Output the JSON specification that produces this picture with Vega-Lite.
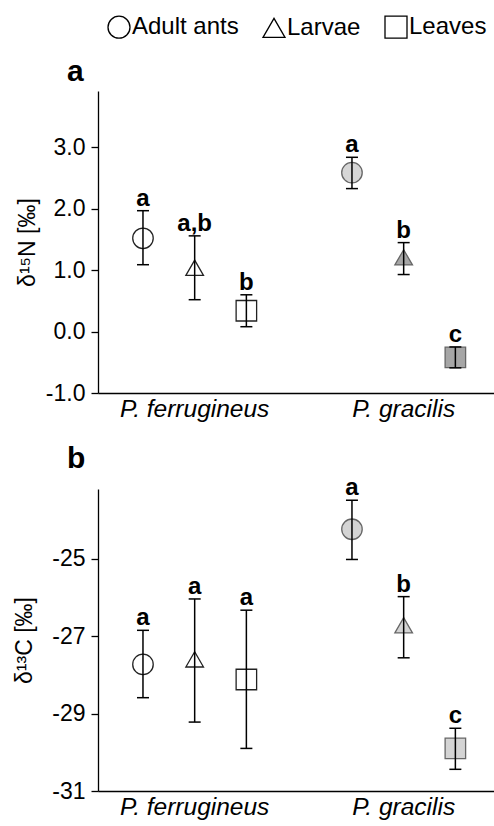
{
  "$schema": "https://vega.github.io/schema/vega-lite/v6.json",
  "padding": {"left": 13, "top": 15, "right": 2, "bottom": 2},
  "background": "white",
  "config": {
    "font": "Liberation Sans",
    "view": {"stroke": null},
    "axis": {"grid": false, "domainColor": "black", "tickColor": "black", "labelColor": "black", "titleColor": "black", "domainWidth": 1.3, "tickWidth": 1.3, "titleFontWeight": "normal"},
    "title": {"color": "black"},
    "legend": {"orient": "none", "legendX": 9, "legendY": -76, "direction": "horizontal", "title": null, "symbolSize": 484, "symbolStrokeWidth": 1.3, "symbolFillColor": "white", "symbolStrokeColor": "black", "labelFontSize": 24, "labelColor": "black", "labelOffset": 1, "columnPadding": 21,
               "symbolOpacity": 1}
  },
  "datasets": {
    "n15": [
      {"species": "P. ferrugineus", "type": "Adult ants", "mean": 1.52, "lo": 1.09, "hi": 1.97, "letter": "a"},
      {"species": "P. ferrugineus", "type": "Larvae", "mean": 1.04, "lo": 0.52, "hi": 1.56, "letter": "a,b"},
      {"species": "P. ferrugineus", "type": "Leaves", "mean": 0.34, "lo": 0.08, "hi": 0.60, "letter": "b"},
      {"species": "P. gracilis", "type": "Adult ants", "mean": 2.59, "lo": 2.33, "hi": 2.84, "letter": "a"},
      {"species": "P. gracilis", "type": "Larvae", "mean": 1.21, "lo": 0.93, "hi": 1.45, "letter": "b"},
      {"species": "P. gracilis", "type": "Leaves", "mean": -0.42, "lo": -0.59, "hi": -0.25, "letter": "c"}
    ],
    "c13": [
      {"species": "P. ferrugineus", "type": "Adult ants", "mean": -27.73, "lo": -28.59, "hi": -26.85, "letter": "a"},
      {"species": "P. ferrugineus", "type": "Larvae", "mean": -27.6, "lo": -29.22, "hi": -26.04, "letter": "a"},
      {"species": "P. ferrugineus", "type": "Leaves", "mean": -28.12, "lo": -29.9, "hi": -26.33, "letter": "a"},
      {"species": "P. gracilis", "type": "Adult ants", "mean": -24.24, "lo": -25.02, "hi": -23.49, "letter": "a"},
      {"species": "P. gracilis", "type": "Larvae", "mean": -26.72, "lo": -27.56, "hi": -25.98, "letter": "b"},
      {"species": "P. gracilis", "type": "Leaves", "mean": -29.9, "lo": -30.44, "hi": -29.38, "letter": "c"}
    ]
  },
  "spacing": 23,
  "vconcat": [
    {
      "width": 396,
      "height": 302,
      "data": {"name": "n15"},
      "title": {"text": "a", "anchor": "start", "frame": "group", "fontSize": 30, "fontWeight": "bold", "dx": -31, "offset": 4},
      "encoding": {
        "x": {"field": "species", "type": "nominal", "scale": {"domain": ["P. ferrugineus", "P. gracilis"], "paddingInner": 0.2, "paddingOuter": 0.0474, "align": 0.66},
              "axis": {"title": null, "ticks": false, "labelAngle": 0, "labelFontSize": 24.5, "labelFontStyle": "italic", "labelPadding": 4}},
        "xOffset": {"field": "type", "type": "nominal", "scale": {"domain": ["Adult ants", "Larvae", "Leaves"], "paddingInner": 0, "paddingOuter": 0.117}},
        "y": {"field": "mean", "type": "quantitative", "scale": {"domain": [-1, 3.92], "nice": false, "zero": false},
              "axis": {"title": "δ¹⁵N [‰]", "values": [-1, 0, 1, 2, 3], "format": ".1f", "labelExpr": "replace(datum.label, '−', '-')", "labelFontSize": 23, "titleFontSize": 23, "tickSize": 7, "labelPadding": 6, "titlePadding": 6}},
        "shape": {"field": "type", "type": "nominal", "scale": {"domain": ["Adult ants", "Larvae", "Leaves"], "range": ["circle", "triangle-up", "square"]},
                  "legend": {"encoding": {"symbols": {"fill": {"value": "white"}, "stroke": {"value": "black"}, "opacity": {"value": 1}}}}},
        "fill": {"condition": [{"test": "datum.species === 'P. ferrugineus'", "value": "white"}, {"test": "datum.type === 'Adult ants'", "value": "#d6d6d6"}], "value": "#a6a6a6"},
        "stroke": {"condition": {"test": "datum.species === 'P. ferrugineus'", "value": "#222222"}, "value": "#666666"}
      },
      "layer": [
        {
          "transform": [{"filter": "datum.type !== 'Larvae'"}],
          "mark": {"type": "point", "opacity": 1, "strokeWidth": 1.3, "size": 420}
        },
        {
          "transform": [{"filter": "datum.type === 'Larvae'"}],
          "mark": {"type": "point", "opacity": 1, "strokeWidth": 1.3, "size": 310}
        },
        {
          "mark": {"type": "rule", "color": "black", "strokeWidth": 1.5},
          "encoding": {"y": {"field": "lo", "type": "quantitative"}, "y2": {"field": "hi"}, "shape": null, "fill": null, "stroke": null}
        },
        {
          "mark": {"type": "tick", "color": "black", "size": 12, "thickness": 1.5, "opacity": 1},
          "encoding": {"y": {"field": "lo", "type": "quantitative"}, "shape": null, "fill": null, "stroke": null}
        },
        {
          "mark": {"type": "tick", "color": "black", "size": 12, "thickness": 1.5, "opacity": 1},
          "encoding": {"y": {"field": "hi", "type": "quantitative"}, "shape": null, "fill": null, "stroke": null}
        },
        {
          "mark": {"type": "text", "fontSize": 24, "fontWeight": "bold", "baseline": "alphabetic", "dy": -5, "color": "black"},
          "encoding": {"y": {"field": "hi", "type": "quantitative"}, "text": {"field": "letter"}, "shape": null, "fill": null, "stroke": null}
        }
      ]
    },
    {
      "width": 396,
      "height": 302,
      "data": {"name": "c13"},
      "title": {"text": "b", "anchor": "start", "frame": "group", "fontSize": 30, "fontWeight": "bold", "dx": -31, "offset": 2},
      "encoding": {
        "x": {"field": "species", "type": "nominal", "scale": {"domain": ["P. ferrugineus", "P. gracilis"], "paddingInner": 0.2, "paddingOuter": 0.0474, "align": 0.66},
              "axis": {"title": null, "ticks": false, "labelAngle": 0, "labelFontSize": 24.5, "labelFontStyle": "italic", "labelPadding": 4}},
        "xOffset": {"field": "type", "type": "nominal", "scale": {"domain": ["Adult ants", "Larvae", "Leaves"], "paddingInner": 0, "paddingOuter": 0.117}},
        "y": {"field": "mean", "type": "quantitative", "scale": {"domain": [-31, -23.2], "nice": false, "zero": false},
              "axis": {"title": "δ¹³C [‰]", "values": [-31, -29, -27, -25], "format": "d", "labelExpr": "replace(datum.label, '−', '-')", "labelFontSize": 23, "titleFontSize": 23, "tickSize": 7, "labelPadding": 6, "titlePadding": 15}},
        "shape": {"field": "type", "type": "nominal", "scale": {"domain": ["Adult ants", "Larvae", "Leaves"], "range": ["circle", "triangle-up", "square"]},
                  "legend": {"encoding": {"symbols": {"fill": {"value": "white"}, "stroke": {"value": "black"}, "opacity": {"value": 1}}}}},
        "fill": {"condition": {"test": "datum.species === 'P. ferrugineus'", "value": "white"}, "value": "#d4d4d4"},
        "stroke": {"condition": {"test": "datum.species === 'P. ferrugineus'", "value": "#222222"}, "value": "#666666"}
      },
      "layer": [
        {
          "transform": [{"filter": "datum.type !== 'Larvae'"}],
          "mark": {"type": "point", "opacity": 1, "strokeWidth": 1.3, "size": 420}
        },
        {
          "transform": [{"filter": "datum.type === 'Larvae'"}],
          "mark": {"type": "point", "opacity": 1, "strokeWidth": 1.3, "size": 310}
        },
        {
          "mark": {"type": "rule", "color": "black", "strokeWidth": 1.5},
          "encoding": {"y": {"field": "lo", "type": "quantitative"}, "y2": {"field": "hi"}, "shape": null, "fill": null, "stroke": null}
        },
        {
          "mark": {"type": "tick", "color": "black", "size": 12, "thickness": 1.5, "opacity": 1},
          "encoding": {"y": {"field": "lo", "type": "quantitative"}, "shape": null, "fill": null, "stroke": null}
        },
        {
          "mark": {"type": "tick", "color": "black", "size": 12, "thickness": 1.5, "opacity": 1},
          "encoding": {"y": {"field": "hi", "type": "quantitative"}, "shape": null, "fill": null, "stroke": null}
        },
        {
          "mark": {"type": "text", "fontSize": 24, "fontWeight": "bold", "baseline": "alphabetic", "dy": -5, "color": "black"},
          "encoding": {"y": {"field": "hi", "type": "quantitative"}, "text": {"field": "letter"}, "shape": null, "fill": null, "stroke": null}
        }
      ]
    }
  ]
}
